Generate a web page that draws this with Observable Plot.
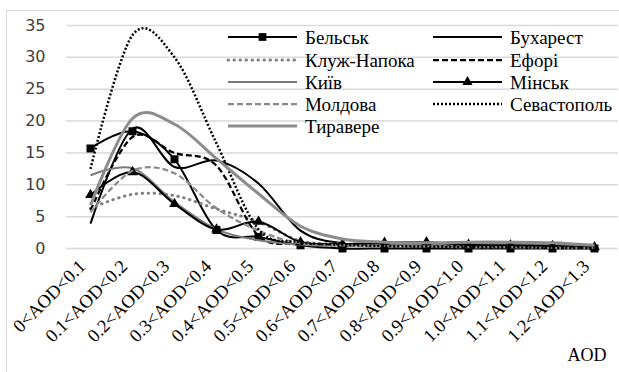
<!DOCTYPE html>
<html><head><meta charset="utf-8">
<script src="https://cdn.jsdelivr.net/npm/d3@7"></script>
<script src="https://cdn.jsdelivr.net/npm/@observablehq/plot@0.6"></script>
<style>
body{margin:0;background:#fff;}
#wrap{position:relative;width:619px;height:372px;overflow:hidden;}
#frame{position:absolute;left:6px;top:10px;width:640px;height:400px;border:1.5px solid #d9d9d9;box-sizing:border-box;}
#chart{position:absolute;left:0;top:0;}
#legend{position:absolute;left:0;top:0;}
.serif{font-family:"Liberation Serif","Times New Roman",Times,"DejaVu Serif",serif;}
</style></head>
<body><div id="wrap"><div id="frame"></div><div id="chart"></div><svg id="legend" class="serif" width="619" height="150"></svg></div>
<script>
const categories = ["0<AOD<0.1","0.1<AOD<0.2","0.2<AOD<0.3","0.3<AOD<0.4","0.4<AOD<0.5","0.5<AOD<0.6","0.6<AOD<0.7","0.7<AOD<0.8","0.8<AOD<0.9","0.9<AOD<1.0","1.0<AOD<1.1","1.1<AOD<1.2","1.2<AOD<1.3"];
const seriesNames = ["Бельськ","Бухарест","Клуж-Напока","Ефорі","Київ","Мінськ","Молдова","Севастополь","Тиравере"];
const belsk      = [15.7, 18.4, 14.0, 2.9, 1.8, 0.5, 0.0, 0.0, 0.0, 0.0, 0.0, 0.0, 0.0];
const bucharest  = [3.9, 18.8, 12.8, 13.8, 10.2, 2.8, 0.8, 0.6, 0.5, 0.4, 0.3, 0.3, 0.2];
const cluj       = [6.3, 8.5, 8.3, 6.2, 4.2, 1.2, 0.7, 0.5, 0.4, 0.3, 0.2, 0.2, 0.1];
const eforie     = [6.0, 17.5, 15.0, 13.0, 2.0, 0.8, 0.5, 0.4, 0.3, 0.2, 0.2, 0.1, 0.1];
const kyiv       = [11.5, 12.6, 7.3, 3.0, 1.3, 0.6, 0.5, 0.5, 0.6, 0.7, 0.8, 0.7, 0.5];
const minsk      = [8.4, 12.0, 7.0, 3.0, 4.2, 1.0, 0.7, 0.9, 1.0, 0.6, 0.5, 0.4, 0.2];
const moldova    = [5.7, 12.2, 11.8, 6.3, 2.8, 0.8, 0.5, 0.4, 0.3, 0.2, 0.2, 0.1, 0.1];
const sevastopol = [12.5, 33.5, 30.0, 16.5, 3.0, 1.0, 0.6, 0.4, 0.3, 0.2, 0.2, 0.1, 0.1];
const toravere   = [6.8, 20.4, 19.5, 14.1, 8.6, 3.5, 1.5, 1.0, 0.9, 1.0, 1.0, 0.9, 0.5];
const yTicks = [0, 5, 10, 15, 20, 25, 30, 35];
const axisTitle = "AOD";

const SERIF = "'Liberation Serif','Times New Roman',Times,'DejaVu Serif',serif";
const seriesValues = [belsk, bucharest, cluj, eforie, kyiv, minsk, moldova, sevastopol, toravere];
const styles = [
  {stroke:"#000", w:2, dash:null, cap:"butt", marker:"square"},
  {stroke:"#000", w:2, dash:null, cap:"butt"},
  {stroke:"#808080", w:3, dash:"0.5 5.5", cap:"round"},
  {stroke:"#000", w:2.25, dash:"6 3", cap:"butt"},
  {stroke:"#7a7a7a", w:2, dash:null, cap:"butt"},
  {stroke:"#000", w:2, dash:null, cap:"butt", marker:"triangle"},
  {stroke:"#8a8a8a", w:2.25, dash:"6 3", cap:"butt"},
  {stroke:"#000", w:2.5, dash:"2 2", cap:"butt"},
  {stroke:"#8c8c8c", w:3, dash:null, cap:"butt"}
];

const table = [];
seriesNames.forEach((s, i) => categories.forEach((c, j) => table.push({series: s, cat: c, value: seriesValues[i][j]})));

const marks = [
  Plot.gridY(yTicks, {stroke: "#d9d9d9", strokeOpacity: 1, strokeWidth: 1.5}),
  Plot.axisY(yTicks, {tickSize: 0, tickPadding: 21, fontSize: 16, fontFamily: "DejaVu Sans", color: "#404040", label: null}),
  Plot.text(categories, {x: d => d, text: d => d, frameAnchor: "bottom", rotate: -45, textAnchor: "end", dx: -4, dy: 19, fontSize: 18.5, fontFamily: SERIF, fill: "#000"}),
  Plot.text([axisTitle], {frameAnchor: "bottom-right", text: d => d, textAnchor: "end", lineAnchor: "bottom", dx: -12, dy: 112, fontSize: 18, fontFamily: SERIF, fill: "#000"})
];
seriesNames.forEach((s, i) => {
  const st = styles[i];
  const d = table.filter(r => r.series === s);
  marks.push(Plot.line(d, {x: "cat", y: "value", curve: "cardinal", tension: 0, stroke: st.stroke, strokeWidth: st.w, strokeDasharray: st.dash, strokeLinecap: st.cap}));
  if (st.marker) marks.push(Plot.dot(d, {x: "cat", y: "value", symbol: st.marker, r: st.marker === "square" ? 4.5 : 4, fill: "#000", stroke: "none"}));
});

const chart = Plot.plot({
  width: 619, height: 372,
  marginLeft: 66, marginRight: 1, marginTop: 25, marginBottom: 124,
  x: {type: "point", domain: categories, padding: 0.5, axis: null},
  y: {domain: [0, 35], axis: null},
  style: {background: "transparent", overflow: "visible"},
  marks
});
document.getElementById("chart").appendChild(chart);

// legend
const lg = d3.select("#legend");
const cols = [228, 433];
const rowsY = [37, 60, 82, 104, 126];
seriesNames.forEach((s, i) => {
  const st = styles[i];
  const x0 = cols[i % 2], y0 = rowsY[Math.floor(i / 2)];
  lg.append("line").attr("x1", x0).attr("x2", x0 + 69).attr("y1", y0).attr("y2", y0)
    .attr("stroke", st.stroke).attr("stroke-width", st.w).attr("stroke-dasharray", st.dash).attr("stroke-linecap", st.cap);
  if (st.marker) {
    const sym = d3.symbol(st.marker === "square" ? d3.symbolSquare : d3.symbolTriangle, st.marker === "square" ? 60 : 45);
    lg.append("path").attr("d", sym()).attr("transform", `translate(${x0 + 34.5},${y0})`).attr("fill", "#000");
  }
  lg.append("text").attr("x", x0 + 77).attr("y", y0).attr("dy", "0.35em")
    .style("font-family", SERIF).style("font-size", "19px").text(s);
});
</script>
</body></html>
